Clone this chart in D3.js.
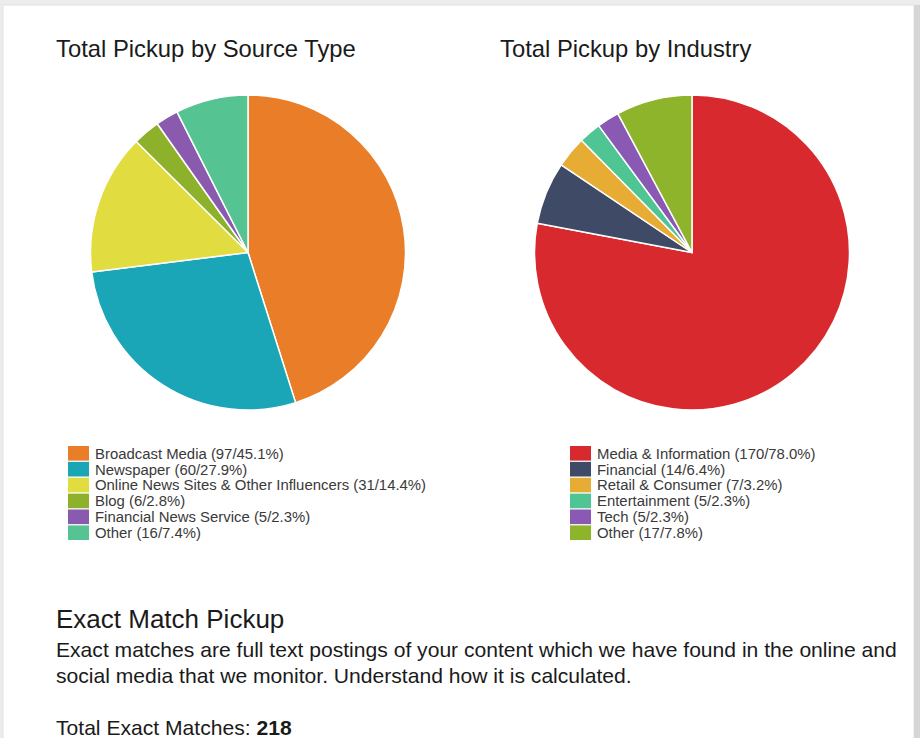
<!DOCTYPE html>
<html>
<head>
<meta charset="utf-8">
<script src="https://cdn.jsdelivr.net/npm/d3@7"></script>
<style>
  html, body { margin: 0; padding: 0; background: #ececec; }
  body { width: 920px; height: 738px; overflow: hidden; }
  svg { display: block; font-family: "Liberation Sans", Arial, Helvetica, sans-serif; }
</style>
</head>
<body>
<svg id="page" width="920" height="738"></svg>
<script>
// source type chart
var sourceLabels = ["Broadcast Media", "Newspaper", "Online News Sites & Other Influencers", "Blog", "Financial News Service", "Other"];
var sourceCounts = [97, 60, 31, 6, 5, 16];
var sourcePcts = ["45.1", "27.9", "14.4", "2.8", "2.3", "7.4"];
var sourceColors = ["#ea7e28", "#1ba6b8", "#e1dd41", "#8db12b", "#8a5aae", "#56c393"];

// industry chart
var industryLabels = ["Media & Information", "Financial", "Retail & Consumer", "Entertainment", "Tech", "Other"];
var industryCounts = [170, 14, 7, 5, 5, 17];
var industryPcts = ["78.0", "6.4", "3.2", "2.3", "2.3", "7.8"];
var industryColors = ["#d8292e", "#3f4b66", "#e6ac33", "#4ec593", "#8a59b3", "#8db42b"];

var totalExact = 218;

var svg = d3.select('#page');

// card
svg.append("rect").attr("x", 3).attr("y", 5).attr("width", 911).attr("height", 740)
  .attr("fill", "#fff").attr("stroke", "#e2e2e2");
svg.append("rect").attr("x", 914).attr("y", 5).attr("width", 6).attr("height", 740).attr("fill", "#d6d6d6");

var pie = d3.pie().sort(null);
var arc = d3.arc().innerRadius(0).outerRadius(157.5);

function drawPanel(x0, pieX, legX, title, labels, counts, pcts, colors) {
  var g = svg.append("g");

  g.append("text").attr("x", x0).attr("y", 57)
    .attr("font-size", 23.8).attr("fill", "#1a1a1a").text(title);

  var color = d3.scaleOrdinal().domain(labels).range(colors);
  var data = labels.map(function(l, i) { return { label: l, value: counts[i], pct: pcts[i] }; });

  var pieG = g.append("g").attr("transform", "translate(" + pieX + ",252.5)");
  pieG.selectAll("path")
    .data(pie.value(function(d) { return d.value; })(data))
    .enter().append("path")
    .attr("d", arc)
    .attr("fill", function(d) { return color(d.data.label); })
    .attr("stroke", "#fff")
    .attr("stroke-width", 1.5)
    .attr("stroke-linejoin", "round");

  var rowY = d3.scaleBand().domain(labels).range([446, 540]).paddingInner(0.08);

  var leg = g.append("g");
  var rows = leg.selectAll("g").data(data).enter().append("g")
    .attr("transform", function(d) { return "translate(" + legX + "," + rowY(d.label) + ")"; });
  rows.append("rect").attr("width", 21).attr("height", rowY.bandwidth())
    .attr("fill", function(d) { return color(d.label); });
  rows.append("text").attr("x", 27).attr("y", rowY.bandwidth() / 2).attr("dy", "0.36em")
    .attr("font-size", 14.9).attr("fill", "#3a3a3a")
    .text(function(d) { return d.label + " (" + d.value + "/" + d.pct + "%)"; });
}

drawPanel(56, 248, 68, "Total Pickup by Source Type", sourceLabels, sourceCounts, sourcePcts, sourceColors);
drawPanel(500, 692, 570, "Total Pickup by Industry", industryLabels, industryCounts, industryPcts, industryColors);

// exact match section
svg.append("text").attr("x", 56).attr("y", 628).attr("font-size", 26).attr("fill", "#1a1a1a")
  .text("Exact Match Pickup");
svg.append("text").attr("x", 56).attr("y", 657).attr("font-size", 21.1).attr("fill", "#1a1a1a")
  .text("Exact matches are full text postings of your content which we have found in the online and");
svg.append("text").attr("x", 56).attr("y", 683).attr("font-size", 21.1).attr("fill", "#1a1a1a")
  .text("social media that we monitor. Understand how it is calculated.");
var tot = svg.append("text").attr("x", 56).attr("y", 735).attr("font-size", 21.1).attr("fill", "#1a1a1a");
tot.append("tspan").text("Total Exact Matches: ");
tot.append("tspan").attr("font-weight", "bold").text(totalExact);
</script>
</body>
</html>
